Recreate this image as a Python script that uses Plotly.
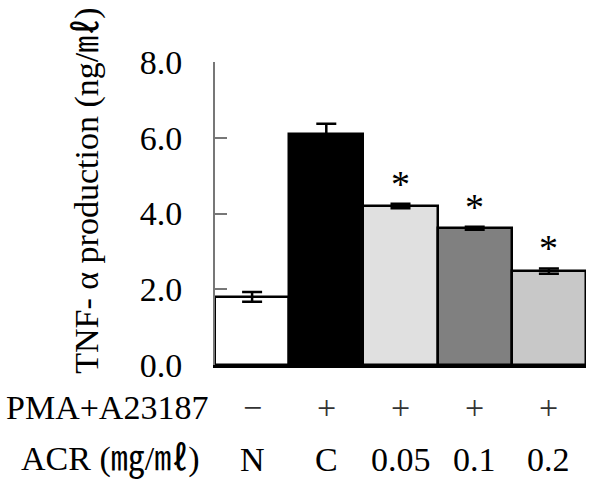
import plotly.graph_objects as go

# ---- data ----
groups = ["N", "C", "0.05", "0.1", "0.2"]
pma = ["−", "+", "+", "+", "+"]
values = [1.80, 6.10, 4.20, 3.61, 2.48]
errors = [0.13, 0.27, 0.06, 0.04, 0.07]
significant = [False, False, True, True, True]
bar_colors = ["#ffffff", "#000000", "#e0e0e0", "#808080", "#c8c8c8"]
y_ticks = [0, 2, 4, 6, 8]

FONT = "Liberation Serif, Times New Roman, Noto Sans CJK KR, serif"
FS = 34

x = list(range(len(groups)))

fig = go.Figure()
fig.add_trace(go.Bar(
    x=x, y=values,
    marker=dict(color=bar_colors, line=dict(color="black", width=2.5)),
    error_y=dict(type="data", array=errors, visible=True,
                 color="black", thickness=2.5, width=10),
    width=1.0,
    showlegend=False,
))

annotations = []
# significance asterisks
for xi, v, e, s in zip(x, values, errors, significant):
    if s:
        annotations.append(dict(x=xi, y=v + e, xref="x", yref="y", text="*",
                                showarrow=False, yanchor="middle", yshift=20,
                                font=dict(family=FONT, size=38, color="black")))
# bottom rows
for xi, p, g in zip(x, pma, groups):
    annotations.append(dict(x=xi, y=0, xref="x", yref="paper", text=p,
                            showarrow=False, yanchor="middle", yshift=-42,
                            font=dict(family=FONT, size=FS, color="#333")))
    annotations.append(dict(x=xi, y=0, xref="x", yref="paper", text=g,
                            showarrow=False, yanchor="middle", yshift=-94,
                            font=dict(family=FONT, size=FS, color="black")))
annotations.append(dict(x=-0.290, y=0, xref="paper", yref="paper", text="PMA+A23187",
                        showarrow=False, xanchor="center", yanchor="middle", yshift=-42,
                        font=dict(family=FONT, size=FS, color="black")))
annotations.append(dict(x=-0.283, y=0, xref="paper", yref="paper", text="ACR (㎎/㎖)",
                        showarrow=False, xanchor="center", yanchor="middle", yshift=-94,
                        font=dict(family=FONT, size=FS, color="black")))
# y-axis title
annotations.append(dict(x=-0.345, y=0.575, xref="paper", yref="paper",
                        text="TNF- α production (ng/㎖)", textangle=-90,
                        showarrow=False, xanchor="center", yanchor="middle",
                        font=dict(family=FONT, size=FS, color="black")))

fig.update_layout(
    width=593, height=486,
    margin=dict(l=215, r=7, t=62, b=121),
    plot_bgcolor="white", paper_bgcolor="white",
    bargap=0,
    annotations=annotations,
    xaxis=dict(range=[-0.5, 4.5], showticklabels=False, ticks="",
               showline=True, linecolor="black", linewidth=2.5,
               showgrid=False, zeroline=False, fixedrange=True),
    yaxis=dict(range=[0, 8], tickvals=y_ticks, tickformat=".1f",
               ticks="inside", ticklen=12, tickwidth=2, tickcolor="#777",
               showline=True, linecolor="#777", linewidth=2,
               showgrid=False, zeroline=False, ticklabelstandoff=24,
               tickfont=dict(family=FONT, size=FS, color="black")),
)

fig.write_html("out.html")
